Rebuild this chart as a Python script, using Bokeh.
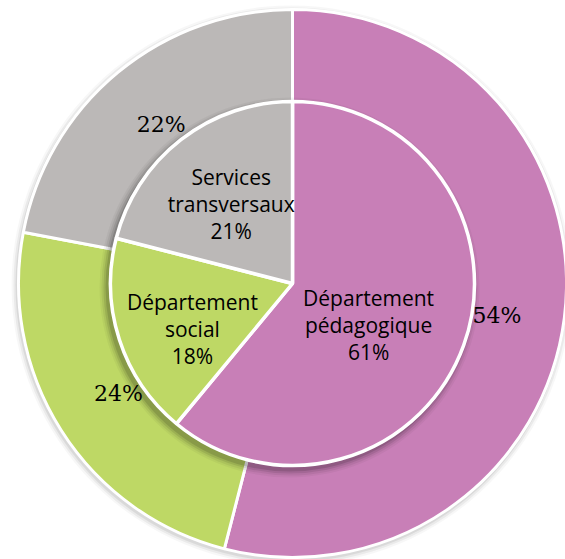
import numpy as np
from bokeh.plotting import figure
from bokeh.models import Range1d, ColumnDataSource
from bokeh.core.properties import value
from bokeh.embed import file_html
from bokeh.resources import INLINE

# ---- data ----
categories = ["Département pédagogique", "Département social", "Services transversaux"]
inner_labels = [["Département", "pédagogique"], ["Département", "social"], ["Services", "transversaux"]]
outer_values = [54, 24, 22]
inner_values = [61, 18, 21]
colors = ["#C87FB7", "#BED865", "#BBB8B7"]

W, H = 565, 559
CX, CY = 292, 276
R_OUT, R_IN = 274, 182


def angles(vals):
    vals = np.array(vals, dtype=float)
    frac = vals / vals.sum()
    ends = np.pi / 2 - 2 * np.pi * np.cumsum(frac)
    starts = np.concatenate([[np.pi / 2], ends[:-1]])
    mids = (starts + ends) / 2
    return starts, ends, mids


p = figure(width=W, height=H, x_range=Range1d(0, W), y_range=Range1d(0, H),
           output_backend="svg", toolbar_location=None, min_border=0)
p.axis.visible = False
p.grid.visible = False
p.outline_line_color = None
p.background_fill_color = "white"
p.border_fill_color = "white"

# outer shadow
for off, a in [(6, 0.03), (4, 0.05), (2, 0.07)]:
    p.circle(x=[CX - 1], y=[CY - 2], radius=R_OUT + off, fill_color="black",
             fill_alpha=a, line_color=None)

os_, oe, om = angles(outer_values)
src_o = ColumnDataSource(dict(start=os_, end=oe, color=colors))
p.wedge(x=CX, y=CY, radius=R_OUT, start_angle="start", end_angle="end",
        direction="clock", fill_color="color", line_color="white", line_width=3,
        source=src_o)

# inner shadow
for off, a in [(8, 0.04), (6, 0.06), (4, 0.09), (2, 0.12)]:
    p.circle(x=[CX - 3], y=[CY - 4], radius=R_IN + off, fill_color="black",
             fill_alpha=a, line_color=None)

is_, ie, im = angles(inner_values)
src_i = ColumnDataSource(dict(start=is_, end=ie, color=colors))
p.wedge(x=CX, y=CY, radius=R_IN, start_angle="start", end_angle="end",
        direction="clock", fill_color="color", line_color="white", line_width=3.5,
        source=src_i)

# outer labels
r_lab_o = 206
ox = CX + r_lab_o * np.cos(om)
oy = CY + r_lab_o * np.sin(om)
oy[0] -= 6
p.text(x=ox, y=oy,
       text=[f"{v}%" for v in outer_values], text_align="center",
       text_baseline="middle", text_font=value("DejaVu Serif"),
       text_font_size="22px", text_color="black")

# inner labels (one text row per line)
r_lab_i = 100
ix = CX + r_lab_i * np.cos(im)
iy = CY + r_lab_i * np.sin(im)
ix[0] -= 18
iy[0] -= 8
ix[1] -= 5
iy[1] -= 15
LINE = 27
xs, ys, ts = [], [], []
for cx, cy, lines, v in zip(ix, iy, inner_labels, inner_values):
    rows = lines + [f"{v}%"]
    n = len(rows)
    for k, t in enumerate(rows):
        xs.append(cx)
        ys.append(cy + ((n - 1) / 2 - k) * LINE)
        ts.append(t)
p.text(x=xs, y=ys, text=ts, text_align="center", text_baseline="middle",
       text_font=value("Open Sans"), text_font_size="21px", text_color="black")

open("out.html", "w").write(file_html(p, INLINE))
